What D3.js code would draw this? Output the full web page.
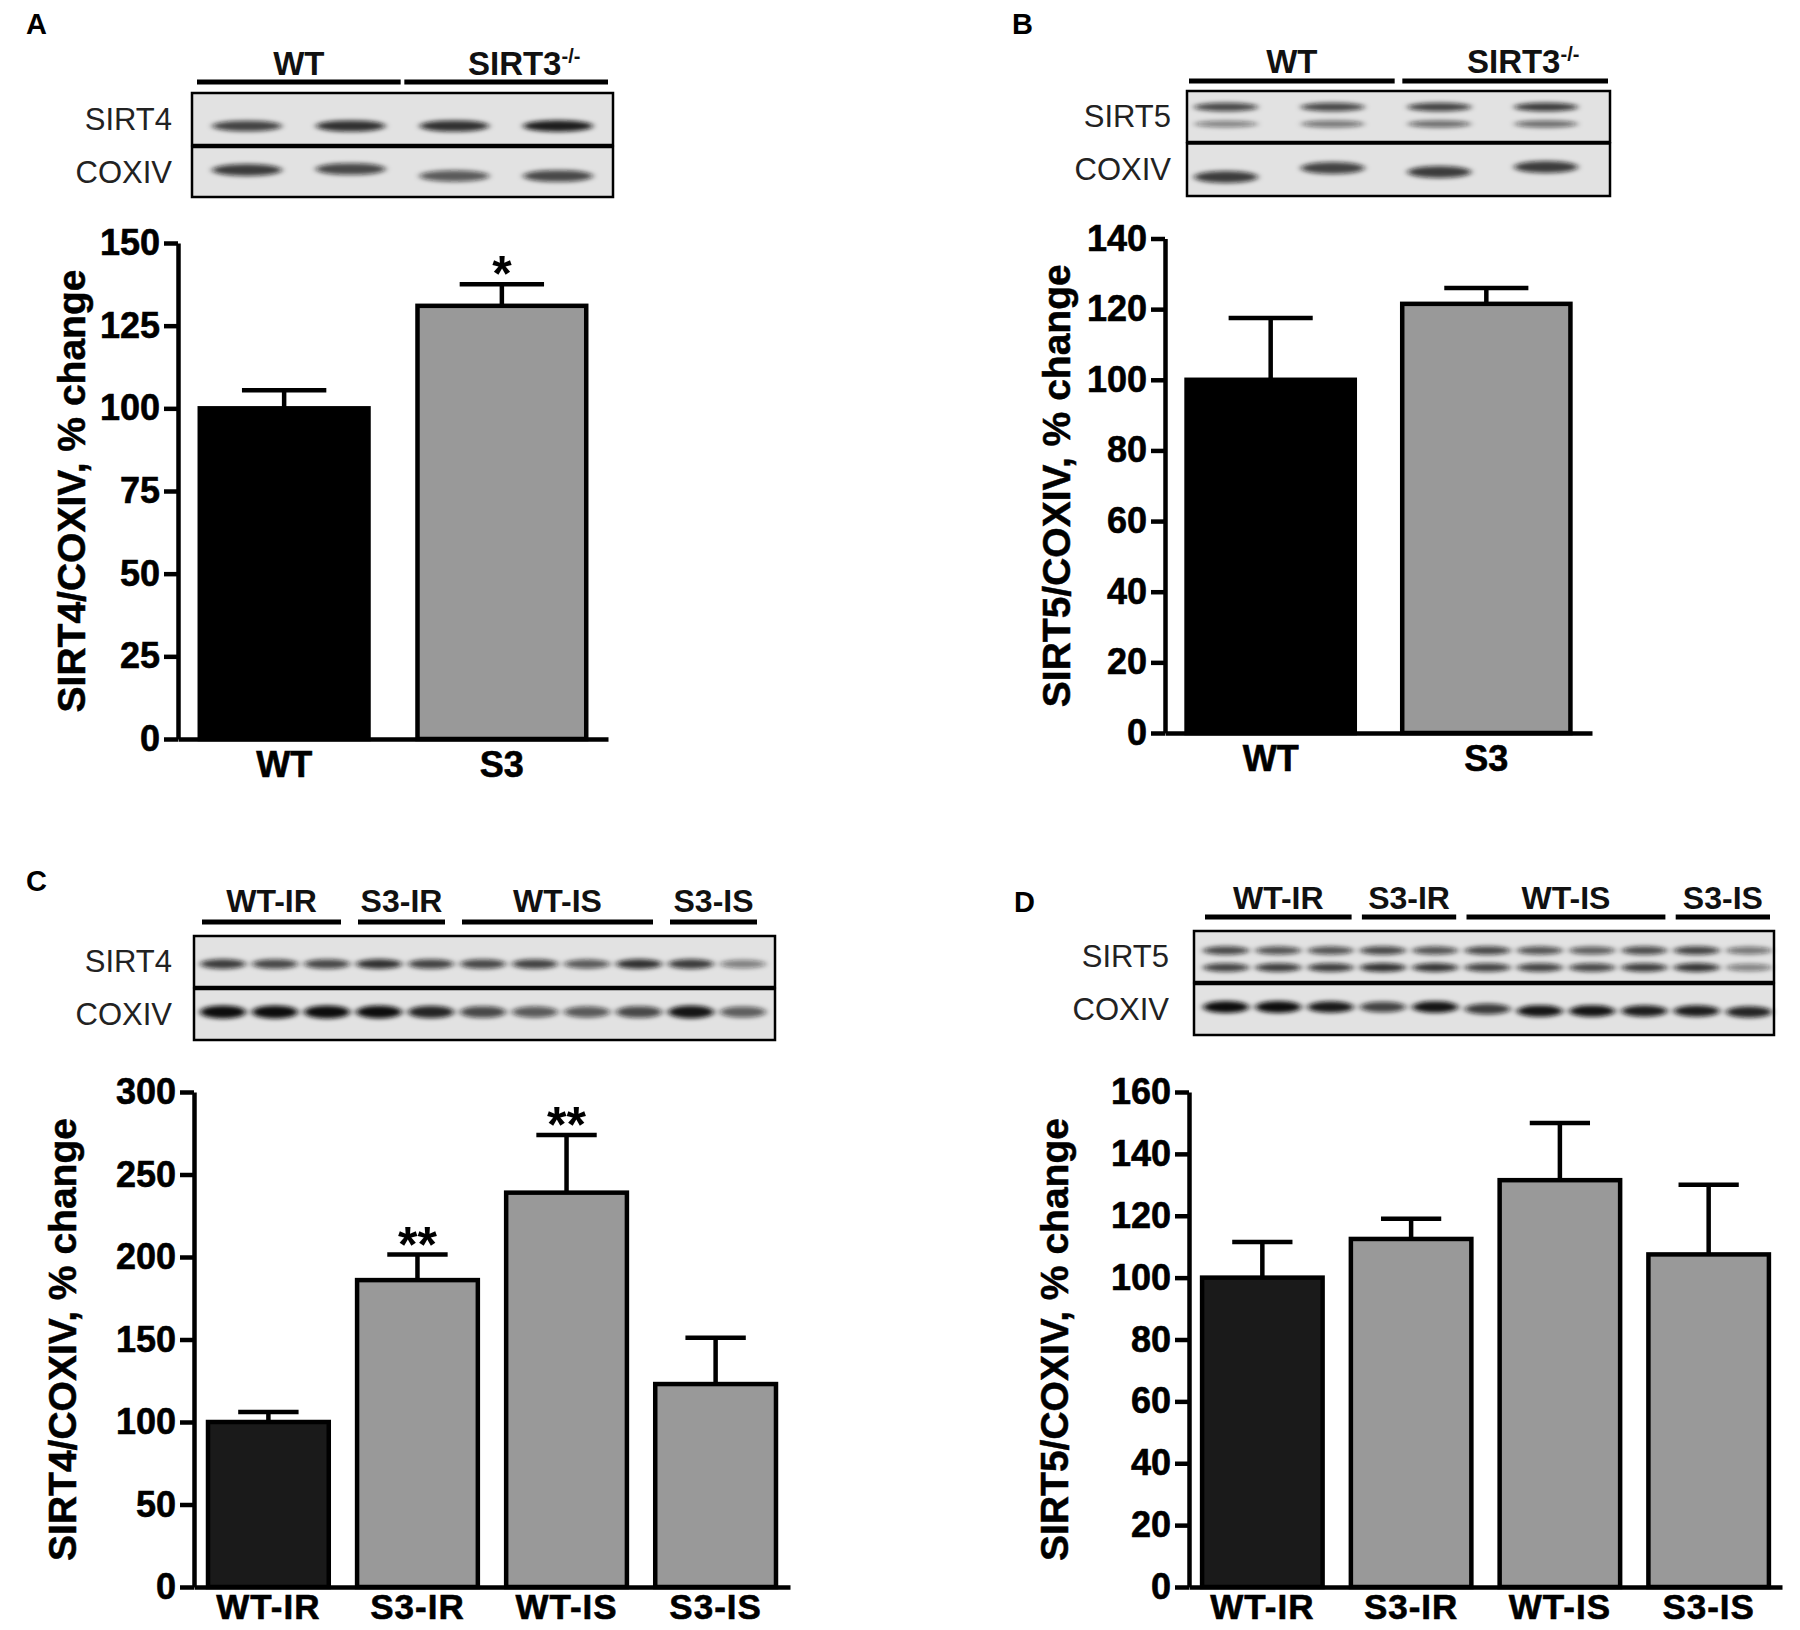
<!DOCTYPE html>
<html>
<head>
<meta charset="utf-8">
<style>
  body { margin: 0; background: #fff; }
  text { font-family: "Liberation Sans", Arial, Helvetica, sans-serif; }
</style>
</head>
<body>
<svg id="fig" width="1800" height="1630"></svg>

<script src="https://d3js.org/d3.v7.min.js"></script>
<script>
	// Values (% change, mean and SEM)

	// A: SIRT4 / COXIV, WT vs SIRT3-/-
	const groupsAB = ['WT', 'S3']
	const sirt4Mean = [100, 131]
	const sirt4Sem = [5.5, 6.5]
	const sirt4Sig = ['', '*']
	const yTicksA = [0, 25, 50, 75, 100, 125, 150]

	// B: SIRT5 / COXIV
	const sirt5Mean = [100, 121.5]
	const sirt5Sem = [17.5, 4.5]
	const sirt5Sig = ['', '']
	const yTicksB = [0, 20, 40, 60, 80, 100, 120, 140]

	// C: SIRT4 / COXIV after IR / IS
	const groupsCD = ['WT-IR', 'S3-IR', 'WT-IS', 'S3-IS']
	const sirt4IMean = [100, 186, 239, 123]
	const sirt4ISem = [6, 15.5, 35, 28]
	const sirt4ISig = ['', '**', '**', '']
	const yTicksC = [0, 50, 100, 150, 200, 250, 300]

	// D: SIRT5 / COXIV after IR / IS
	const sirt5IMean = [100, 112.5, 131.5, 107.5]
	const sirt5ISem = [11.5, 6.5, 18.5, 22.5]
	const sirt5ISig = ['', '', '', '']
	const yTicksD = [0, 20, 40, 60, 80, 100, 120, 140, 160]

	// Blot lane groups
	const blotGroupsAB = [{ name: 'WT', lanes: 2 }, { name: 'SIRT3', sup: '-/-', lanes: 2 }]
	const blotGroupsCD = [
		{ name: 'WT-IR', lanes: 3 }, { name: 'S3-IR', lanes: 2 },
		{ name: 'WT-IS', lanes: 4 }, { name: 'S3-IS', lanes: 2 }
	]

	// Band darkness per lane (0 - 1)
	const bandsA_sirt4 = [0.72, 0.8, 0.8, 0.88]
	const bandsA_cox = [0.75, 0.7, 0.62, 0.7]
	const bandsB_sirt5hi = [0.7, 0.7, 0.72, 0.75]
	const bandsB_sirt5lo = [0.45, 0.5, 0.55, 0.55]
	const bandsB_cox = [0.75, 0.72, 0.75, 0.75]
	const bandsC_sirt4 = [0.75, 0.7, 0.7, 0.8, 0.72, 0.7, 0.72, 0.62, 0.8, 0.75, 0.45]
	const bandsC_cox = [1, 1, 1, 0.95, 0.85, 0.7, 0.62, 0.62, 0.7, 0.92, 0.6]
	const bandsD_sirt5hi = [0.7, 0.65, 0.65, 0.7, 0.65, 0.7, 0.65, 0.6, 0.68, 0.72, 0.5]
	const bandsD_sirt5lo = [0.72, 0.75, 0.75, 0.8, 0.78, 0.72, 0.72, 0.7, 0.75, 0.78, 0.45]
	const bandsD_cox = [1, 0.95, 0.9, 0.72, 0.92, 0.75, 0.92, 0.92, 0.88, 0.88, 0.85]

	// Layout of the four panels
	const panels = [
		{
			letter: 'A', lx: 26, ly: 34,
			cats: groupsAB, mean: sirt4Mean, sem: sirt4Sem, sig: sirt4Sig, ticks: yTicksA,
			fills: ['#000', '#999'],
			x0: 178, x1: 608, y0: 739, y1: 243, padIn: 0.225, padOut: 0.1, xPad: 12,
			title: 'SIRT4/COXIV, % change', titleX: 71, sigSize: 50, sigDy: 7,
			blot: {
				groups: blotGroupsAB,
				x0: 192, x1: 613, laneRange: [247, 558], ext: [50, 50],
				lineY: 82, labelY: 75, labelSize: 33, supDx: 18, bandW: 70, labelRight: 172,
				rows: [
					{ name: 'SIRT4', y0: 93, y1: 145, bands: [{ cy: 126, h: 10, vals: bandsA_sirt4 }] },
					{ name: 'COXIV', y0: 147, y1: 197, bands: [{ cy: 171, h: 11, vals: bandsA_cox, shift: [-1, -2, 5, 5] }] }
				]
			}
		},
		{
			letter: 'B', lx: 1012, ly: 34,
			cats: groupsAB, mean: sirt5Mean, sem: sirt5Sem, sig: sirt5Sig, ticks: yTicksB,
			fills: ['#000', '#999'],
			x0: 1165, x1: 1592, y0: 733, y1: 238.5, padIn: 0.22, padOut: 0.1, xPad: 12,
			title: 'SIRT5/COXIV, % change', titleX: 1056, sigSize: 50, sigDy: 7,
			blot: {
				groups: blotGroupsAB,
				x0: 1187, x1: 1610, laneRange: [1226, 1546], ext: [37, 62],
				lineY: 81, labelY: 73, labelSize: 33, supDx: 18, bandW: 64, labelRight: 1171,
				rows: [
					{ name: 'SIRT5', y0: 91, y1: 142, bands: [
						{ cy: 107, h: 8, vals: bandsB_sirt5hi },
						{ cy: 124, h: 7, vals: bandsB_sirt5lo }
					] },
					{ name: 'COXIV', y0: 143.5, y1: 196, bands: [{ cy: 172, h: 11, vals: bandsB_cox, shift: [5, -4, 0, -5] }] }
				]
			}
		},
		{
			letter: 'C', lx: 26, ly: 891,
			cats: groupsCD, mean: sirt4IMean, sem: sirt4ISem, sig: sirt4ISig, ticks: yTicksC,
			fills: ['#1a1a1a', '#999', '#999', '#999'],
			x0: 194, x1: 790, y0: 1587, y1: 1092, padIn: 0.19, padOut: 0.094, xPad: 7,
			title: 'SIRT4/COXIV, % change', titleX: 62, sigSize: 50, sigDy: 7,
			blot: {
				groups: blotGroupsCD,
				x0: 194, x1: 775, laneRange: [223, 743], ext: [21, 14],
				lineY: 922, labelY: 912, labelSize: 32, supDx: 0, bandW: 46, labelRight: 172,
				rows: [
					{ name: 'SIRT4', y0: 936, y1: 987, bands: [{ cy: 964, h: 9, vals: bandsC_sirt4 }] },
					{ name: 'COXIV', y0: 989, y1: 1040, bands: [{ cy: 1012, h: 11, vals: bandsC_cox }] }
				]
			}
		},
		{
			letter: 'D', lx: 1014, ly: 912,
			cats: groupsCD, mean: sirt5IMean, sem: sirt5ISem, sig: sirt5ISig, ticks: yTicksD,
			fills: ['#1a1a1a', '#999', '#999', '#999'],
			x0: 1189, x1: 1782, y0: 1587, y1: 1092, padIn: 0.19, padOut: 0.088, xPad: 7,
			title: 'SIRT5/COXIV, % change', titleX: 1054, sigSize: 50, sigDy: 7,
			blot: {
				groups: blotGroupsCD,
				x0: 1194, x1: 1774, laneRange: [1226, 1749], ext: [21, 21],
				lineY: 917, labelY: 909, labelSize: 32, supDx: 0, bandW: 46, labelRight: 1169,
				rows: [
					{ name: 'SIRT5', y0: 931, y1: 982, bands: [
						{ cy: 950.5, h: 8, vals: bandsD_sirt5hi },
						{ cy: 967.5, h: 8, vals: bandsD_sirt5lo }
					] },
					{ name: 'COXIV', y0: 984, y1: 1035, bands: [{ cy: 1007, h: 10, vals: bandsD_cox, shift: [0, 0, 0, 0, 0, 2, 4, 4, 4, 4, 5] }] }
				]
			}
		}
	]

	const svg = d3.select('#fig')
	const LW = 4.5 // line width of axes, bars and error bars

	// soft edges for the blot bands
	svg.append('defs').append('filter')
		.attr('id', 'blur')
		.attr('x', '-30%').attr('y', '-150%')
		.attr('width', '160%').attr('height', '400%')
		.append('feGaussianBlur').attr('stdDeviation', '3 2.2')

	panels.forEach(p => drawPanel(p))

	function drawPanel(p) {
		const g = svg.append('g')

		g.append('text')
			.attr('x', p.lx).attr('y', p.ly)
			.attr('font-size', 29).attr('font-weight', 'bold')
			.text(p.letter)

		drawBlot(g, p.blot)

		const x = d3.scaleBand()
			.domain(p.cats)
			.range([p.x0, p.x1])
			.paddingInner(p.padIn)
			.paddingOuter(p.padOut)
		const y = d3.scaleLinear()
			.domain([0, d3.max(p.ticks)])
			.range([p.y0, p.y1])
		const bw = x.bandwidth()

		// error bars (drawn first so the bar outline covers the base)
		const err = g.selectAll('g.err')
			.data(p.cats)
			.enter()
			.append('g')
		err.append('line')
			.attr('x1', d => x(d) + bw / 2)
			.attr('x2', d => x(d) + bw / 2)
			.attr('y1', (d, i) => y(p.mean[i]))
			.attr('y2', (d, i) => y(p.mean[i] + p.sem[i]))
		err.append('line')
			.attr('x1', d => x(d) + bw / 4)
			.attr('x2', d => x(d) + bw * 3 / 4)
			.attr('y1', (d, i) => y(p.mean[i] + p.sem[i]))
			.attr('y2', (d, i) => y(p.mean[i] + p.sem[i]))
		err.selectAll('line').attr('stroke', '#000').attr('stroke-width', LW)

		g.selectAll('rect.bar')
			.data(p.cats)
			.enter()
			.append('rect')
			.attr('class', 'bar')
			.attr('x', d => x(d))
			.attr('width', bw)
			.attr('y', (d, i) => y(p.mean[i]))
			.attr('height', (d, i) => y(0) - y(p.mean[i]))
			.attr('fill', (d, i) => p.fills[i])
			.attr('stroke', '#000')
			.attr('stroke-width', LW)

		// significance stars
		g.selectAll('text.sig')
			.data(p.cats)
			.enter()
			.append('text')
			.attr('class', 'sig')
			.attr('x', d => x(d) + bw / 2)
			.attr('y', (d, i) => y(p.mean[i] + p.sem[i]) + p.sigDy)
			.attr('text-anchor', 'middle')
			.attr('font-size', p.sigSize)
			.attr('font-weight', 'bold')
			.text((d, i) => p.sig[i])

		const yAxis = g.append('g')
			.attr('transform', `translate(${p.x0},0)`)
			.call(d3.axisLeft(y).tickValues(p.ticks).tickSize(14).tickSizeOuter(0).tickPadding(4))
		const xAxis = g.append('g')
			.attr('transform', `translate(0,${p.y0})`)
			.call(d3.axisBottom(x).tickSize(0).tickSizeOuter(0).tickPadding(p.xPad))

		;[yAxis, xAxis].forEach(a => {
			a.attr('font-family', null)
			a.selectAll('path, line').attr('stroke', '#000').attr('stroke-width', LW)
			a.selectAll('text')
				.attr('font-size', 36)
				.attr('font-weight', 'bold')
				.attr('fill', '#000')
				.attr('stroke', '#000')
				.attr('stroke-width', 0.6)
		})
		xAxis.selectAll('text')
			.attr('font-size', p.cats.length > 2 ? 35 : 36)
			.attr('letter-spacing', p.cats.length > 2 ? 1 : 0)

		g.append('text')
			.attr('transform', `translate(${p.titleX},${(p.y0 + p.y1) / 2}) rotate(-90)`)
			.attr('text-anchor', 'middle')
			.attr('dominant-baseline', 'central')
			.attr('font-size', 39)
			.attr('font-weight', 'bold')
			.attr('stroke', '#000')
			.attr('stroke-width', 0.5)
			.text(p.title)
	}

	function drawBlot(g, b) {
		const nLanes = d3.sum(b.groups, d => d.lanes)
		const lane = d3.scalePoint().domain(d3.range(nLanes)).range(b.laneRange)

		// group lines and labels
		let start = 0
		b.groups.forEach(gr => {
			const xa = lane(start) - b.ext[0]
			const xb = lane(start + gr.lanes - 1) + b.ext[1]
			start += gr.lanes
			g.append('line')
				.attr('x1', xa).attr('x2', xb)
				.attr('y1', b.lineY).attr('y2', b.lineY)
				.attr('stroke', '#000').attr('stroke-width', 5)
			const t = g.append('text')
				.attr('x', (xa + xb) / 2 + (gr.sup ? b.supDx : 0))
				.attr('y', b.labelY)
				.attr('text-anchor', 'middle')
				.attr('font-size', b.labelSize)
				.attr('font-weight', 'bold')
				.attr('fill', '#111')
				.text(gr.name)
			if (gr.sup) {
				t.append('tspan').attr('font-size', 20).attr('dy', -12).text(gr.sup)
			}
		})

		// membrane strips with bands
		b.rows.forEach(r => {
			g.append('rect')
				.attr('x', b.x0).attr('y', r.y0)
				.attr('width', b.x1 - b.x0).attr('height', r.y1 - r.y0)
				.attr('fill', '#e2e2e2')
				.attr('stroke', '#000').attr('stroke-width', 2.5)
			g.append('text')
				.attr('x', b.labelRight)
				.attr('y', (r.y0 + r.y1) / 2)
				.attr('text-anchor', 'end')
				.attr('dominant-baseline', 'central')
				.attr('font-size', 31)
				.attr('fill', '#222')
				.text(r.name)
			r.bands.forEach(band => {
				// darker bands are also a little thicker
				const hOf = v => band.h * (0.75 + 0.45 * v)
				g.append('g')
					.attr('filter', 'url(#blur)')
					.selectAll('ellipse')
					.data(band.vals)
					.enter()
					.append('ellipse')
					.attr('cx', (v, i) => lane(i))
					.attr('cy', (v, i) => band.cy + (band.shift ? band.shift[i] : 0))
					.attr('rx', b.bandW / 2)
					.attr('ry', v => hOf(v) / 2)
					.attr('fill', '#111')
					.attr('fill-opacity', v => Math.min(1, v * 1.05))
			})
		})
	}
</script>
</body>
</html>
